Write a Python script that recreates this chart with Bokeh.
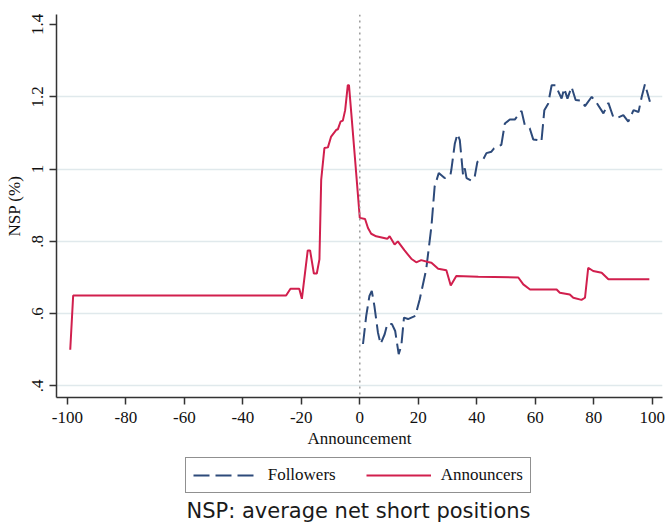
from bokeh.plotting import figure
from bokeh.layouts import column
from bokeh.models import FixedTicker, Span, Legend, LegendItem, Label, Range1d
from bokeh.embed import file_html
from bokeh.resources import INLINE

# ---- data ----
ann_t = [-99, -98, -25.2, -23.7, -20.7, -19.8, -17.8, -17, -15.7, -14.7, -13.8, -13.2,
         -12.1, -10.9, -9.8, -8.1, -7.5, -6.6, -5.8, -5, -4.1, -3.7, -2.9, -1.6, 0,
         1.8, 2.8, 3.9, 5.6, 9.4, 10.2, 11.9, 13, 15.3, 17.6, 19.3, 21, 23.3, 24.5,
         26.8, 29.6, 31.1, 33, 40.5, 54.2, 55.9, 58.2, 67.3, 68.4, 71.8, 73, 75.8,
         77, 78.1, 79.8, 82.7, 85, 99]
ann_v = [0.50, 0.65, 0.65, 0.669, 0.669, 0.641, 0.775, 0.775, 0.711, 0.711, 0.75, 0.97,
         1.058, 1.06, 1.09, 1.108, 1.11, 1.131, 1.134, 1.163, 1.232, 1.232, 1.154, 1.025, 0.865,
         0.862, 0.837, 0.821, 0.814, 0.807, 0.814, 0.791, 0.80, 0.775, 0.752, 0.742, 0.748, 0.743, 0.741,
         0.724, 0.72, 0.678, 0.704, 0.702, 0.70, 0.681, 0.667, 0.667, 0.658, 0.653, 0.644, 0.638,
         0.644, 0.727, 0.718, 0.713, 0.695, 0.695]

fol_t = [1.1, 2.2, 3.3, 4.1, 5, 6.2, 7.1, 8.5, 9.4, 11, 12.1, 13.3, 14.2, 15.1, 16.5,
         19, 20.5, 22.7, 24.5, 25.6, 27, 29, 31, 31.3, 32.5, 33.4, 34.2, 35.3, 35.9,
         36.5, 38.2, 39.3, 40.2, 42.2, 43.3, 45, 45.9, 48.4, 49.6, 51.3, 53, 55.3,
         56.4, 58.1, 59.3, 61, 62.1, 63.1, 64.4, 65.6, 66.9, 69, 69.9, 71, 72.4,
         73.8, 75.8, 77, 79.3, 81, 83.3, 85, 86.7, 88.4, 90.1, 91.8, 93.6, 95.3,
         96.4, 97.5, 99.2]
fol_v = [0.516, 0.594, 0.649, 0.663, 0.621, 0.548, 0.516, 0.543, 0.571, 0.571, 0.552, 0.488,
         0.511, 0.589, 0.585, 0.594, 0.64, 0.722, 0.842, 0.952, 0.989, 0.975, 0.984, 0.998,
         1.071, 1.097, 1.08, 0.984, 1.002, 0.975, 0.968, 0.979, 1.02, 1.027, 1.044, 1.048,
         1.057, 1.067, 1.126, 1.137, 1.137, 1.161, 1.122, 1.113, 1.082, 1.08, 1.076, 1.163,
         1.181, 1.232, 1.232, 1.195, 1.223, 1.195, 1.227, 1.191, 1.189, 1.174, 1.2, 1.183,
         1.154, 1.183, 1.143, 1.143, 1.149, 1.131, 1.163, 1.158, 1.2, 1.235, 1.186]

x_ticks = [-100, -80, -60, -40, -20, 0, 20, 40, 60, 80, 100]
x_tick_labels = ["-100", "-80", "-60", "-40", "-20", "0", "20", "40", "60", "80", "100"]
y_ticks = [0.4, 0.6, 0.8, 1, 1.2, 1.4]
y_tick_labels = [".4", ".6", ".8", "1", "1.2", "1.4"]
grid_ticks = [0.4, 0.6, 0.8, 1, 1.2]

series_names = ["Followers", "Announcers"]
caption = "NSP: average net short positions"

SERIF = "Liberation Serif"
TXT = "#111111"
RED = "#d11f4d"
BLUE = "#2d4a7a"
FOL_STYLE = dict(line_color=BLUE, line_width=2, line_dash="16 6")
ANN_STYLE = dict(line_color=RED, line_width=2)


def key(v):
    return int(v) if v == int(v) else v


# ---------------- main chart ----------------
p = figure(width=665, height=450, output_backend="svg", toolbar_location=None,
           x_range=Range1d(-103.7, 103.5), y_range=Range1d(0.368, 1.4276),
           min_border_left=56, min_border_right=3, min_border_top=14, min_border_bottom=52)
p.outline_line_color = None
p.background_fill_color = "white"
p.border_fill_color = "white"

p.xgrid.visible = False
p.ygrid.ticker = FixedTicker(ticks=grid_ticks)
p.ygrid.grid_line_color = "#e0e9ec"
p.ygrid.grid_line_width = 1.5

for ax in (p.xaxis[0], p.yaxis[0]):
    ax.axis_line_color = "#333333"
    ax.axis_line_width = 1.5
    ax.major_tick_line_color = "#333333"
    ax.major_tick_line_width = 1.5
    ax.major_tick_in = 0
    ax.major_tick_out = 7
    ax.minor_tick_line_color = None
    ax.major_label_text_font = SERIF
    ax.major_label_text_font_size = "17px"
    ax.major_label_text_color = TXT
    ax.axis_label_text_font = SERIF
    ax.axis_label_text_font_size = "17px"
    ax.axis_label_text_font_style = "normal"
    ax.axis_label_text_color = TXT

p.xaxis.ticker = FixedTicker(ticks=x_ticks)
p.xaxis.major_label_overrides = {key(v): lab for v, lab in zip(x_ticks, x_tick_labels)}
p.xaxis.axis_label = "Announcement"
p.xaxis.major_label_standoff = 7
p.xaxis.axis_label_standoff = 3

p.yaxis.ticker = FixedTicker(ticks=y_ticks)
p.yaxis.major_label_overrides = {key(v): lab for v, lab in zip(y_ticks, y_tick_labels)}
p.yaxis.major_label_orientation = "vertical"
p.yaxis.axis_label = "NSP (%)"
p.yaxis.major_label_standoff = 6
p.yaxis.axis_label_standoff = 6

p.add_layout(Span(location=0, dimension="height", line_color="#9a9a9a",
                  line_dash="dotted", line_width=1.5))

p.line(fol_t, fol_v, **FOL_STYLE)
p.line(ann_t, ann_v, **ANN_STYLE)

# ---------------- legend + caption strip ----------------
# same series drawn off-view (ranges far away) so only the legend keys appear
q = figure(width=665, height=75, output_backend="svg", toolbar_location=None,
           x_axis_location=None, y_axis_location=None,
           x_range=Range1d(1000, 1001), y_range=Range1d(1000, 1001),
           min_border_left=56, min_border_right=3, min_border_top=0, min_border_bottom=0)
q.outline_line_color = None
q.grid.visible = False
q.background_fill_color = "white"
q.border_fill_color = "white"

lf = q.line(fol_t, fol_v, **FOL_STYLE)
la = q.line(ann_t, ann_v, **ANN_STYLE)

legend = Legend(items=[LegendItem(label=series_names[0], renderers=[lf]),
                       LegendItem(label=series_names[1], renderers=[la])],
                location=(128.7, 32), orientation="horizontal",
                border_line_color="#222222", border_line_width=1.5,
                background_fill_color="white", background_fill_alpha=1,
                padding=7, spacing=30, glyph_width=65, glyph_height=18,
                label_standoff=10, margin=0,
                label_text_font=SERIF, label_text_font_size="17px",
                label_text_color=TXT)
q.add_layout(legend)

q.add_layout(Label(x=302, y=15, x_units="screen", y_units="screen", text=caption,
                   text_align="center", text_baseline="middle",
                   text_font="DejaVu Sans", text_font_size="21px", text_color="#1a1a1a"))

open("out.html", "w").write(file_html(column(p, q, spacing=0), INLINE))
